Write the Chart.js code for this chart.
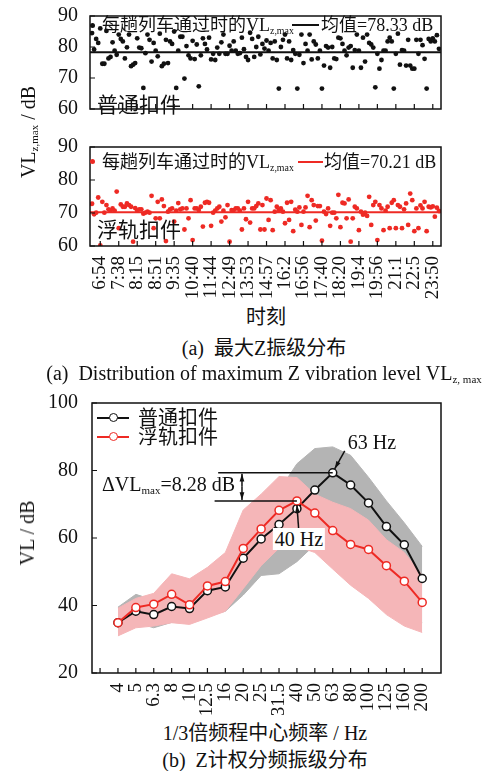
<!DOCTYPE html>
<html>
<head>
<meta charset="utf-8">
<script src="https://cdn.jsdelivr.net/npm/chart.js@4.4.1/dist/chart.umd.min.js"></script>
<style>
  body { margin: 0; background: #fff; width: 500px; height: 771px; position: relative; overflow: hidden;
         font-family: "Liberation Serif", "Noto Sans CJK SC", serif; color: #111; }
  canvas { position: absolute; left: 0; }
  .t { position: absolute; white-space: nowrap; line-height: 1; }
  .c { transform: translate(-50%, -50%); }
  .l { transform: translateY(-50%); }
  .rot { transform: translate(-50%, -50%) rotate(-90deg); }
  sub { font-size: 0.55em; vertical-align: -0.3em; line-height: 0; }
  .dot { position: absolute; border-radius: 50%; }
  .seg { position: absolute; height: 2px; }
  .ring { position: absolute; width: 7px; height: 7px; border-radius: 50%; background: #fff; }
</style>
</head>
<body>
<canvas id="c1" width="500" height="125" style="top:0"></canvas>
<canvas id="c2" width="500" height="175" style="top:130px"></canvas>
<canvas id="c3" width="500" height="330" style="top:385px"></canvas>

<!-- panel 1 legend -->
<div class="dot" style="left:90px;top:23px;width:5px;height:5px;background:#111"></div>
<div class="t l" style="left:102px;top:25px;font-size:18px">每趟列车通过时的VL<sub>z,max</sub></div>
<div class="seg" style="left:292px;top:24px;width:27px;background:#111"></div>
<div class="t l" style="left:321px;top:25px;font-size:18px">均值=78.33 dB</div>
<div class="t l" style="left:97px;top:105px;font-size:21px">普通扣件</div>

<!-- panel 2 legend -->
<div class="dot" style="left:90px;top:159px;width:5px;height:5px;background:#ee2a24"></div>
<div class="t l" style="left:102px;top:162px;font-size:18px">每趟列车通过时的VL<sub>z,max</sub></div>
<div class="seg" style="left:298px;top:161px;width:25px;background:#ee2a24"></div>
<div class="t l" style="left:324px;top:162px;font-size:18px">均值=70.21 dB</div>
<div class="t l" style="left:97px;top:230px;font-size:21px">浮轨扣件</div>

<div class="t rot" style="left:28px;top:132px;font-size:20px">VL<sub>z,max</sub> / dB</div>
<div class="t c" style="left:266px;top:317px;font-size:20px">时刻</div>
<div class="t c" style="left:264px;top:348px;font-size:20px">(a)&nbsp; 最大Z振级分布</div>
<div class="t c" style="left:264px;top:373px;font-size:20px">(a)&nbsp; Distribution of maximum Z vibration level VL<sub>z, max</sub></div>

<!-- bottom chart legend -->
<div class="seg" style="left:97px;top:417px;width:32px;background:#111"></div>
<div class="ring" style="left:109px;top:413px;border:1.5px solid #111"></div>
<div class="t l" style="left:138px;top:418px;font-size:20px">普通扣件</div>
<div class="seg" style="left:97px;top:436px;width:32px;background:#ee2a24"></div>
<div class="ring" style="left:109px;top:432px;border:1.5px solid #ee2a24"></div>
<div class="t l" style="left:138px;top:437px;font-size:20px">浮轨扣件</div>

<div class="t l" style="left:102px;top:484px;font-size:20px">ΔVL<sub>max</sub>=8.28 dB</div>
<div class="t c" style="left:372px;top:442px;font-size:20px">63 Hz</div>
<div class="t c" style="left:299px;top:539px;font-size:20px;background:#fff;padding:1px 2px">40 Hz</div>
<div class="t rot" style="left:27px;top:533px;font-size:20px">VL / dB</div>
<div class="t c" style="left:265px;top:733px;font-size:20px">1/3倍频程中心频率 / Hz</div>
<div class="t c" style="left:265px;top:760px;font-size:20px">(b)&nbsp; Z计权分频振级分布</div>

<script>
// (a) each train pass, in time order
const timeLabels = ['6:54', '7:38', '8:15', '8:51', '9:35', '10:40', '11:44', '12:49', '13:53', '14:57',
  '16:2', '16:56', '17:40', '18:20', '19:4', '19:56', '21:1', '22:5', '23:50'];

const normalVL = [
  84.5, 79.2, 82.6, 81.3, 86.0, 74.6, 74.6, 85.2, 76.3, 76.8,
  81.5, 78.8, 77.5, 84.0, 82.6, 81.8, 76.3, 79.9, 84.0, 73.8,
  74.3, 74.8, 82.8, 79.8, 79.6, 66.8, 78.0, 84.0, 82.3, 75.3,
  81.3, 78.8, 77.0, 84.3, 73.8, 74.6, 82.3, 74.8, 81.8, 81.0,
  85.0, 66.8, 78.8, 83.3, 83.3, 69.8, 80.3, 77.3, 76.3, 82.0,
  76.1, 80.8, 67.3, 77.3, 82.8, 81.0, 79.2, 83.0, 76.0, 77.8,
  75.8, 79.8, 77.8, 81.5, 84.0, 77.8, 77.8, 80.4, 78.8, 81.8,
  78.8, 77.8, 78.0, 83.0, 79.3, 76.8, 75.8, 84.6, 82.6, 76.8,
  80.0, 83.3, 77.6, 81.0, 79.5, 82.1, 78.8, 81.3, 76.3, 81.8,
  75.8, 66.6, 80.0, 82.3, 84.0, 76.3, 81.8, 75.8, 79.0, 77.8,
  66.6, 77.5, 84.0, 74.8, 81.0, 78.8, 84.0, 76.0, 81.8, 80.8,
  76.3, 78.8, 66.6, 74.0, 80.3, 79.8, 73.3, 80.0, 76.3, 76.1,
  83.0, 82.8, 81.0, 78.8, 77.3, 79.8, 80.3, 73.3, 79.0, 84.0,
  78.8, 73.3, 83.0, 75.3, 84.0, 81.3, 80.8, 79.8, 67.0, 77.8,
  73.0, 75.8, 78.8, 78.8, 81.8, 83.0, 81.8, 66.6, 77.8, 84.3,
  74.3, 79.0, 78.8, 74.0, 82.3, 74.0, 73.0, 73.0, 82.3, 77.8,
  82.3, 80.6, 76.2, 66.6, 82.6, 81.8, 82.8, 81.8, 83.8, 79.4
];
const floatVL = [
  72.8, 69.6, 70.1, 74.7, 60.2, 73.4, 70.1, 72.4, 71.1, 70.7,
  71.4, 70.7, 76.5, 65.4, 72.6, 71.9, 71.9, 72.9, 72.4, 71.9,
  61.3, 71.5, 70.7, 71.1, 71.1, 69.8, 70.1, 70.4, 70.1, 75.2,
  65.4, 68.4, 73.4, 68.4, 74.1, 72.1, 61.5, 70.4, 71.1, 71.4,
  67.4, 70.7, 73.0, 71.1, 71.4, 65.0, 71.4, 68.4, 73.9, 61.8,
  71.4, 71.4, 70.9, 71.9, 65.9, 73.1, 73.4, 73.1, 66.1, 70.1,
  70.7, 71.4, 71.9, 67.4, 70.7, 68.7, 72.4, 61.3, 70.9, 70.9,
  71.4, 71.4, 70.7, 65.0, 71.4, 68.1, 73.4, 67.1, 71.4, 71.4,
  72.1, 72.9, 65.0, 72.4, 65.0, 74.4, 67.9, 73.9, 64.8, 70.4,
  71.9, 70.9, 71.4, 70.4, 66.9, 73.1, 67.9, 73.4, 64.5, 71.0,
  70.4, 71.7, 66.4, 70.4, 71.7, 75.2, 65.7, 73.9, 72.4, 67.7,
  72.1, 72.1, 61.6, 70.4, 69.7, 71.4, 66.1, 70.1, 70.1, 68.4,
  75.5, 65.7, 73.1, 72.9, 68.4, 74.1, 61.3, 68.4, 71.9, 71.4,
  64.8, 70.4, 69.5, 70.1, 69.1, 74.9, 66.4, 72.4, 73.4, 61.8,
  72.4, 71.4, 64.8, 70.7, 71.9, 65.4, 73.1, 73.9, 65.4, 72.4,
  71.9, 65.4, 71.1, 72.9, 66.4, 75.9, 73.9, 64.5, 71.4, 65.4,
  72.3, 71.4, 73.4, 64.5, 71.9, 71.7, 72.0, 68.9, 71.6, 70.6
];
const normalMean = 78.33;
const floatMean = 70.21;

// (b) 1/3 octave bands
const freqLabels = ['4', '5', '6.3', '8', '10', '12.5', '16', '20', '25', '31.5', '40', '50', '63', '80', '100', '125', '160', '200'];
const normalBand = [34.9, 38.3, 37.3, 39.7, 39.1, 44.4, 45.5, 54.0, 59.7, 64.0, 68.7, 74.2, 79.3, 75.7, 70.4, 63.4, 58.0, 48.0];
const floatBand = [34.9, 39.4, 40.4, 43.3, 40.2, 45.8, 47.1, 56.9, 62.7, 68.2, 71.0, 67.4, 62.2, 58.1, 56.6, 51.8, 47.2, 40.9];
// envelopes of all single-train spectra
const normalHi = [39.5, 43.3, 41.6, 42.1, 41.8, 45.5, 46.5, 54.5, 60.5, 74.0, 82.0, 86.5, 87.0, 84.5, 78.0, 71.0, 64.5, 57.5];
const normalLo = [32.5, 34.9, 33.4, 35.0, 35.4, 36.8, 38.3, 43.1, 48.9, 49.4, 53.0, 58.0, 60.0, 58.0, 52.0, 46.0, 40.0, 35.0];
const floatHi = [39.2, 42.1, 43.6, 49.4, 47.9, 51.3, 55.7, 68.3, 73.0, 78.2, 77.9, 73.0, 70.6, 68.7, 65.3, 59.5, 55.7, 48.9];
const floatLo = [31.0, 33.4, 33.9, 34.9, 34.4, 36.3, 38.3, 45.0, 51.8, 57.0, 57.5, 55.7, 50.8, 46.0, 42.1, 37.3, 33.9, 32.0];

const RED = '#ee2a24';
const INK = '#111';
const GREY = '#b4b4b4';
const PINK = '#f5b6b8';
const SERIF = "'Liberation Serif', 'Noto Sans CJK SC', serif";

Chart.defaults.font.family = SERIF;
Chart.defaults.color = INK;
Chart.defaults.animation = false;
Chart.defaults.plugins.legend.display = false;
Chart.defaults.plugins.tooltip.enabled = false;

// box round the plot and short ticks pointing inward
const frame = {
  id: 'frame',
  afterDraw(chart) {
    const { ctx, chartArea: a, scales } = chart;
    ctx.save();
    ctx.strokeStyle = INK;
    ctx.lineWidth = 1.5;
    ctx.strokeRect(a.left, a.top, a.right - a.left, a.bottom - a.top);
    ctx.lineWidth = 1.2;
    ctx.beginPath();
    scales.x.ticks.forEach(t => {
      const px = scales.x.getPixelForValue(t.value);
      ctx.moveTo(px, a.bottom);
      ctx.lineTo(px, a.bottom - 5);
    });
    scales.y.ticks.forEach(t => {
      const py = scales.y.getPixelForValue(t.value);
      ctx.moveTo(a.left, py);
      ctx.lineTo(a.left + 5, py);
    });
    ctx.stroke();
    ctx.restore();
  }
};

const toPoints = arr => arr.map((v, i) => ({ x: i + 1, y: v }));
const labelPos = timeLabels.map((_, k) => 5 + 9 * k);
const nTrain = normalVL.length;

function panel(id, values, mean, color, showLabels, padTop) {
  new Chart(document.getElementById(id), {
    type: 'scatter',
    data: {
      datasets: [
        { type: 'line', data: [{ x: 0, y: mean }, { x: nTrain + 1, y: mean }],
          borderColor: color, borderWidth: 2, pointRadius: 0 },
        { data: toPoints(values), backgroundColor: color, borderWidth: 0, pointRadius: 2.4 }
      ]
    },
    options: {
      responsive: false,
      devicePixelRatio: 1,
      layout: { padding: { top: padTop, right: 59, left: 0, bottom: 0 } },
      scales: {
        x: {
          type: 'linear', min: 0, max: nTrain + 1,
          grid: { display: false }, border: { display: false },
          afterBuildTicks: s => { s.ticks = labelPos.map(v => ({ value: v })); },
          afterFit: s => { s.height = showLabels ? 59 : 9; },
          ticks: {
            display: showLabels, autoSkip: false, maxRotation: 90, minRotation: 90, padding: 2,
            font: { size: 19 },
            callback: v => timeLabels[labelPos.indexOf(v)]
          }
        },
        y: {
          min: 60, max: 90,
          grid: { display: false }, border: { display: false },
          afterFit: s => { s.width = 90; },
          ticks: { stepSize: 10, padding: 4, font: { size: 20 } }
        }
      }
    },
    plugins: [frame]
  });
}

panel('c1', normalVL, normalMean, INK, false, 16);
panel('c2', floatVL, floatMean, RED, true, 17);

// annotation of the two peaks
function arrowHead(ctx, x, y, ang) {
  ctx.beginPath();
  ctx.moveTo(x, y);
  ctx.lineTo(x - 8 * Math.cos(ang - 0.3), y - 8 * Math.sin(ang - 0.3));
  ctx.lineTo(x - 8 * Math.cos(ang + 0.3), y - 8 * Math.sin(ang + 0.3));
  ctx.closePath();
  ctx.fill();
}
function arrow(ctx, x0, y0, x1, y1) {
  ctx.beginPath();
  ctx.moveTo(x0, y0);
  ctx.lineTo(x1, y1);
  ctx.stroke();
  arrowHead(ctx, x1, y1, Math.atan2(y1 - y0, x1 - x0));
}
const peakNote = {
  id: 'peakNote',
  afterDatasetsDraw(chart) {
    const { ctx, scales: { x, y } } = chart;
    const ib = normalBand.indexOf(Math.max(...normalBand));
    const ir = floatBand.indexOf(Math.max(...floatBand));
    const bx = x.getPixelForValue(ib + 1), by = y.getPixelForValue(normalBand[ib]);
    const rx = x.getPixelForValue(ir + 1), ry = y.getPixelForValue(floatBand[ir]);
    ctx.save();
    ctx.strokeStyle = INK;
    ctx.fillStyle = INK;
    ctx.lineWidth = 1.5;
    ctx.beginPath();
    ctx.moveTo(x.getPixelForValue(6.6), by); ctx.lineTo(bx, by);
    ctx.moveTo(x.getPixelForValue(6.4), ry); ctx.lineTo(rx, ry);
    ctx.stroke();
    const xa = x.getPixelForValue(7.93), ym = (by + ry) / 2;
    arrow(ctx, xa, ym, xa, by + 1);
    arrow(ctx, xa, ym, xa, ry - 1);
    arrow(ctx, bx + 12, by - 22, bx + 2, by - 4);
    arrow(ctx, rx + 2, ry + 32, rx, ry + 4);
    ctx.restore();
  }
};

const band = (data, color, fill, order) => ({
  data: toPoints(data), borderColor: color, backgroundColor: color, borderWidth: 1,
  pointRadius: 0, fill: fill, order: order
});

new Chart(document.getElementById('c3'), {
  type: 'line',
  data: {
    datasets: [
      band(normalHi, GREY, '+1', 5),
      band(normalLo, GREY, false, 5),
      band(floatHi, PINK, '+1', 3),
      band(floatLo, PINK, false, 3),
      { data: toPoints(normalBand), borderColor: INK, borderWidth: 2, pointRadius: 4,
        pointBorderWidth: 1.5, pointBackgroundColor: '#fff', pointBorderColor: INK, order: 1 },
      { data: toPoints(floatBand), borderColor: RED, borderWidth: 2, pointRadius: 4,
        pointBorderWidth: 1.5, pointBackgroundColor: '#fff', pointBorderColor: RED, order: 0 }
    ]
  },
  options: {
    responsive: false,
    devicePixelRatio: 1,
    layout: { padding: { top: 12, right: 59, left: 0, bottom: 0 } },
    scales: {
      x: {
        type: 'linear', min: -0.45, max: freqLabels.length + 1.05,
        grid: { display: false }, border: { display: false },
        afterBuildTicks: s => { s.ticks = [0, ...freqLabels.map((_, i) => i + 1)].map(v => ({ value: v })); },
        afterFit: s => { s.height = 42; },
        ticks: {
          autoSkip: false, maxRotation: 90, minRotation: 90, padding: 2, font: { size: 19 },
          callback: v => (v >= 1 ? freqLabels[Math.round(v) - 1] : '')
        }
      },
      y: {
        min: 20, max: 100,
        grid: { display: false }, border: { display: false },
        afterFit: s => { s.width = 92; },
        ticks: { stepSize: 20, padding: 6, font: { size: 20 } }
      }
    }
  },
  plugins: [frame, peakNote]
});
</script>
</body>
</html>
